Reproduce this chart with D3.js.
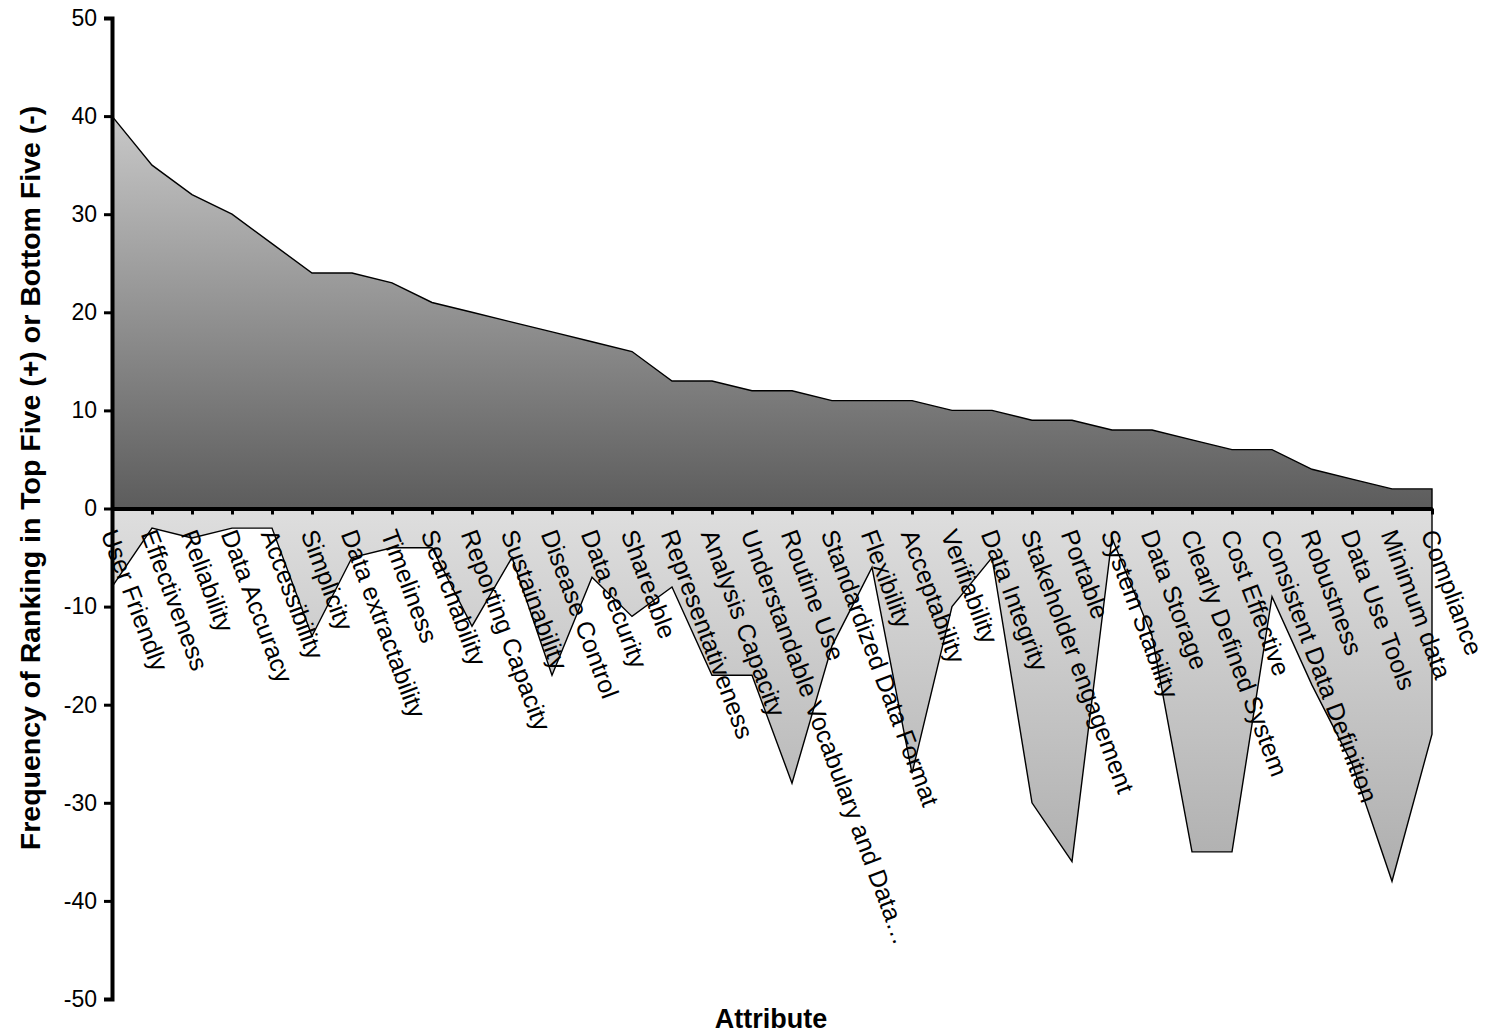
<!DOCTYPE html>
<html>
<head>
<meta charset="utf-8">
<script src="https://cdn.jsdelivr.net/npm/d3@7"></script>
<style>
  html, body { margin: 0; padding: 0; background: #fff; }
  svg { display: block; font-family: Arial, "Liberation Sans", sans-serif; }
</style>
</head>
<body>
<svg id="chart" width="1491" height="1035"></svg>
<script>
// Attributes, ordered by how often they were ranked in the top five
const attributes = [
  "User Friendly", "Effectiveness", "Reliability", "Data Accuracy", "Accessibility",
  "Simplicity", "Data extractability", "Timeliness", "Searchability", "Reporting Capacity",
  "Sustainability", "Disease Control", "Data security", "Shareable", "Representativeness",
  "Analysis Capacity", "Understandable Vocabulary and Data\u2026", "Routine Use",
  "Standardized Data Format", "Flexibility", "Acceptability", "Verifiability",
  "Data Integrity", "Stakeholder engagement", "Portable", "System Stability",
  "Data Storage", "Clearly Defined System", "Cost Effective", "Consistent Data Definition",
  "Robustness", "Data Use Tools", "Minimum data", "Compliance"
];

// Times ranked in the top five (+)
const topFive = [
  40, 35, 32, 30, 27, 24, 24, 23, 21, 20, 19, 18, 17, 16, 13, 13, 12,
  12, 11, 11, 11, 10, 10, 9, 9, 8, 8, 7, 6, 6, 4, 3, 2, 2
];

// Times ranked in the bottom five (-)
const bottomFive = [
  -8, -2, -3, -2, -2, -13, -5, -4, -4, -12, -5, -17, -7, -11, -8, -17, -17,
  -28, -14, -6, -27, -10, -5, -30, -36, -3, -13, -35, -35, -9, -18, -26, -38, -23
];

const yTicks = [50, 40, 30, 20, 10, 0, -10, -20, -30, -40, -50];

const svg = d3.select("#chart");

const x = d3.scalePoint().domain(attributes).range([112, 1432]);
const y = d3.scaleLinear().domain([-50, 50]).range([999, 18]);

// Vertical gradients for the two areas
const defs = svg.append("defs");
const gPos = defs.append("linearGradient")
  .attr("id", "gradTop").attr("gradientUnits", "userSpaceOnUse")
  .attr("x1", 0).attr("x2", 0).attr("y1", y(40)).attr("y2", y(0));
gPos.append("stop").attr("offset", "0%").attr("stop-color", "#c8c8c8");
gPos.append("stop").attr("offset", "100%").attr("stop-color", "#5c5c5c");

const gNeg = defs.append("linearGradient")
  .attr("id", "gradBottom").attr("gradientUnits", "userSpaceOnUse")
  .attr("x1", 0).attr("x2", 0).attr("y1", y(0)).attr("y2", y(-38));
gNeg.append("stop").attr("offset", "0%").attr("stop-color", "#dedede");
gNeg.append("stop").attr("offset", "100%").attr("stop-color", "#aeaeae");

const area = d3.area()
  .x((d, i) => x(attributes[i]))
  .y0(y(0))
  .y1(d => y(d));

svg.append("path")
  .datum(topFive)
  .attr("d", area)
  .attr("fill", "url(#gradTop)")
  .attr("stroke", "#000")
  .attr("stroke-width", 1.4)
  .attr("stroke-linejoin", "miter");

svg.append("path")
  .datum(bottomFive)
  .attr("d", area)
  .attr("fill", "url(#gradBottom)")
  .attr("stroke", "#000")
  .attr("stroke-width", 1.4)
  .attr("stroke-linejoin", "miter");

// Value axis
const yAxis = d3.axisLeft(y).tickValues(yTicks).tickSize(8).tickPadding(7)
  .tickFormat(d => String(d));
const gy = svg.append("g").attr("transform", `translate(${x.range()[0]},0)`).call(yAxis);
gy.select(".domain").attr("stroke", "#000").attr("stroke-width", 4);
gy.selectAll(".tick line").attr("stroke", "#000").attr("stroke-width", 3);
gy.selectAll(".tick text")
  .attr("fill", "#000")
  .style("font-size", "23px");

// Category axis along zero
const xAxis = d3.axisBottom(x).tickSize(6).tickSizeOuter(0).tickFormat("");
const gx = svg.append("g").attr("transform", `translate(0,${y(0)})`).call(xAxis);
gx.select(".domain").attr("stroke", "#000").attr("stroke-width", 4);
gx.selectAll(".tick line").attr("stroke", "#000").attr("stroke-width", 3);

// Rotated category labels
svg.append("g")
  .selectAll("text")
  .data(attributes)
  .join("text")
  .attr("transform", d => `translate(${x(d) - 3},${y(0) + 22}) rotate(69.5)`)
  .attr("dominant-baseline", "central")
  .attr("text-anchor", "start")
  .style("font-size", "25px")
  .attr("fill", "#000")
  .text(d => d);

// Axis titles
svg.append("text")
  .attr("x", 771).attr("y", 1028)
  .attr("text-anchor", "middle")
  .style("font-size", "27px").style("font-weight", "bold")
  .text("Attribute");

svg.append("text")
  .attr("transform", `translate(40,478) rotate(-90)`)
  .attr("text-anchor", "middle")
  .style("font-size", "28.5px").style("font-weight", "bold")
  .text("Frequency of Ranking in Top Five (+) or Bottom Five (-)");
</script>
</body>
</html>
